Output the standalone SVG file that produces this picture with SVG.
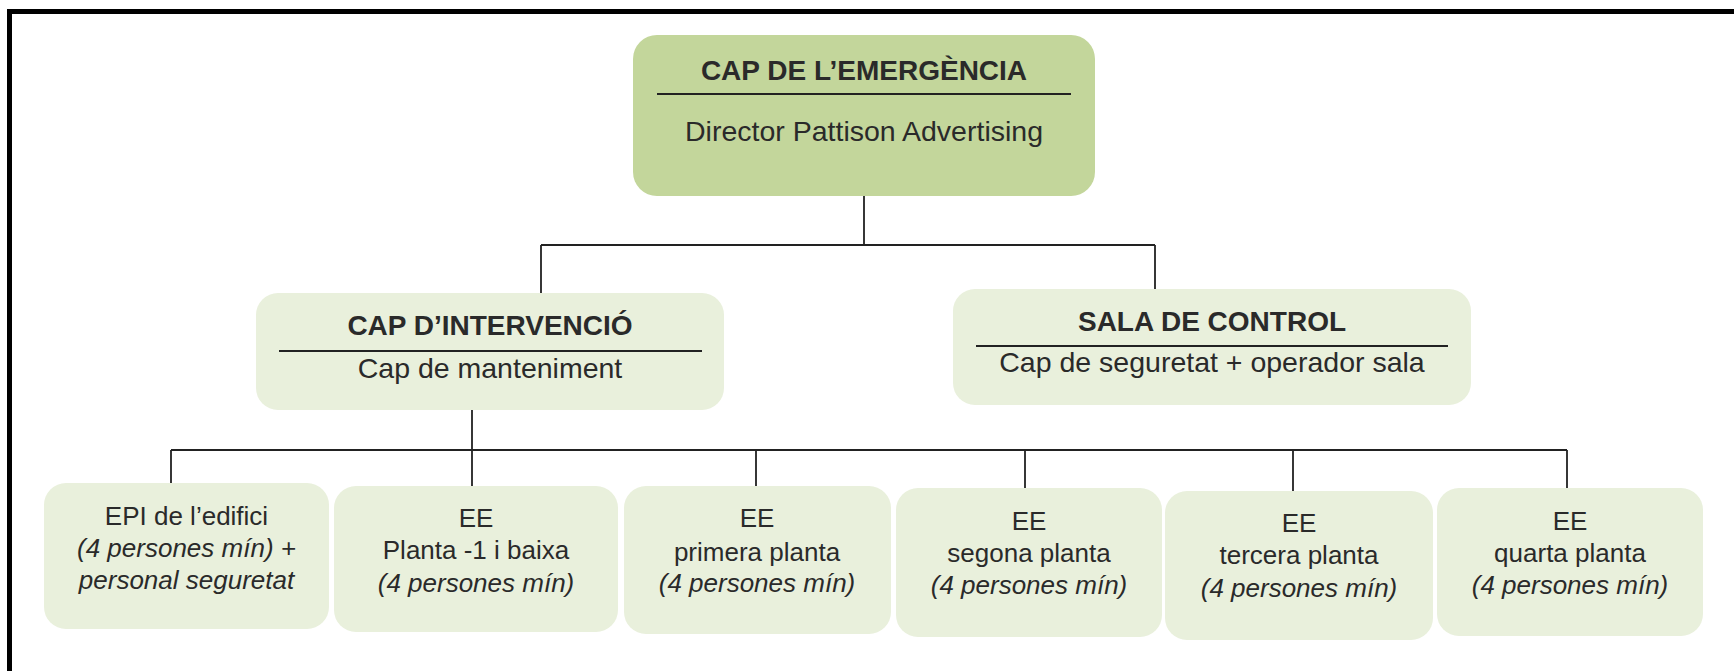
<svg xmlns="http://www.w3.org/2000/svg" width="1734" height="671" viewBox="0 0 1734 671">
<style>
.bg{fill:#ffffff}
.frame{fill:none;stroke:#000;stroke-width:5}
.main{fill:#c3d69b}
.sub{fill:#e9f0dc}
.ln{fill:none;stroke:#222;stroke-width:1.8}
.t{font-family:"Liberation Sans",Arial,sans-serif;fill:#2a2a2a;text-anchor:middle}
.b{font-weight:bold;font-size:28px}
.r{font-size:28.5px}
.s{font-size:26px}
.i{font-style:italic}
</style>
<rect class="bg" x="0" y="0" width="1734" height="671"/>
<path class="frame" d="M9.5 671 V11.5 H1734"/>
<g id="connectors">
<path class="ln" d="M864 196 V245 M541 245 H1155 M541 245 V293 M1155 245 V289"/>
<path class="ln" d="M472 410 V486 M171 450 H1567 M171 450 V483 M756 450 V486 M1025 450 V488 M1293 450 V491 M1567 450 V488"/>
</g>
<g id="cap-emergencia">
<rect class="main" x="633" y="35" width="462" height="161" rx="24"/>
<text class="t b" x="864" y="80">CAP DE L’EMERGÈNCIA</text>
<line class="ln" x1="657" y1="94" x2="1071" y2="94"/>
<text class="t r" x="864" y="141">Director Pattison Advertising</text>
</g>
<g id="cap-intervencio">
<rect class="sub" x="256" y="293" width="468" height="117" rx="22"/>
<text class="t b" x="490" y="335">CAP D’INTERVENCIÓ</text>
<line class="ln" x1="279" y1="351" x2="702" y2="351"/>
<text class="t r" x="490" y="378">Cap de manteniment</text>
</g>
<g id="sala-control">
<rect class="sub" x="953" y="289" width="518" height="116" rx="22"/>
<text class="t b" x="1212" y="331">SALA DE CONTROL</text>
<line class="ln" x1="976" y1="346" x2="1448" y2="346"/>
<text class="t r" x="1212" y="372">Cap de seguretat + operador sala</text>
</g>
<g id="epi">
<rect class="sub" x="44" y="483" width="285" height="146" rx="22"/>
<text class="t s" x="186.5" y="525">EPI de l’edifici</text>
<text class="t s i" x="186.5" y="557">(4 persones mín) +</text>
<text class="t s i" x="186.5" y="589">personal seguretat</text>
</g>
<g id="ee-planta-1">
<rect class="sub" x="334" y="486" width="284" height="146" rx="22"/>
<text class="t s" x="476" y="527">EE</text>
<text class="t s" x="476" y="559">Planta -1 i baixa</text>
<text class="t s i" x="476" y="592">(4 persones mín)</text>
</g>
<g id="ee-primera">
<rect class="sub" x="624" y="486" width="267" height="148" rx="22"/>
<text class="t s" x="757" y="527">EE</text>
<text class="t s" x="757" y="561">primera planta</text>
<text class="t s i" x="757" y="592">(4 persones mín)</text>
</g>
<g id="ee-segona">
<rect class="sub" x="896" y="488" width="266" height="149" rx="22"/>
<text class="t s" x="1029" y="530">EE</text>
<text class="t s" x="1029" y="562">segona planta</text>
<text class="t s i" x="1029" y="594">(4 persones mín)</text>
</g>
<g id="ee-tercera">
<rect class="sub" x="1165" y="491" width="268" height="149" rx="22"/>
<text class="t s" x="1299" y="532">EE</text>
<text class="t s" x="1299" y="564">tercera planta</text>
<text class="t s i" x="1299" y="597">(4 persones mín)</text>
</g>
<g id="ee-quarta">
<rect class="sub" x="1437" y="488" width="266" height="148" rx="22"/>
<text class="t s" x="1570" y="530">EE</text>
<text class="t s" x="1570" y="562">quarta planta</text>
<text class="t s i" x="1570" y="594">(4 persones mín)</text>
</g>
</svg>
